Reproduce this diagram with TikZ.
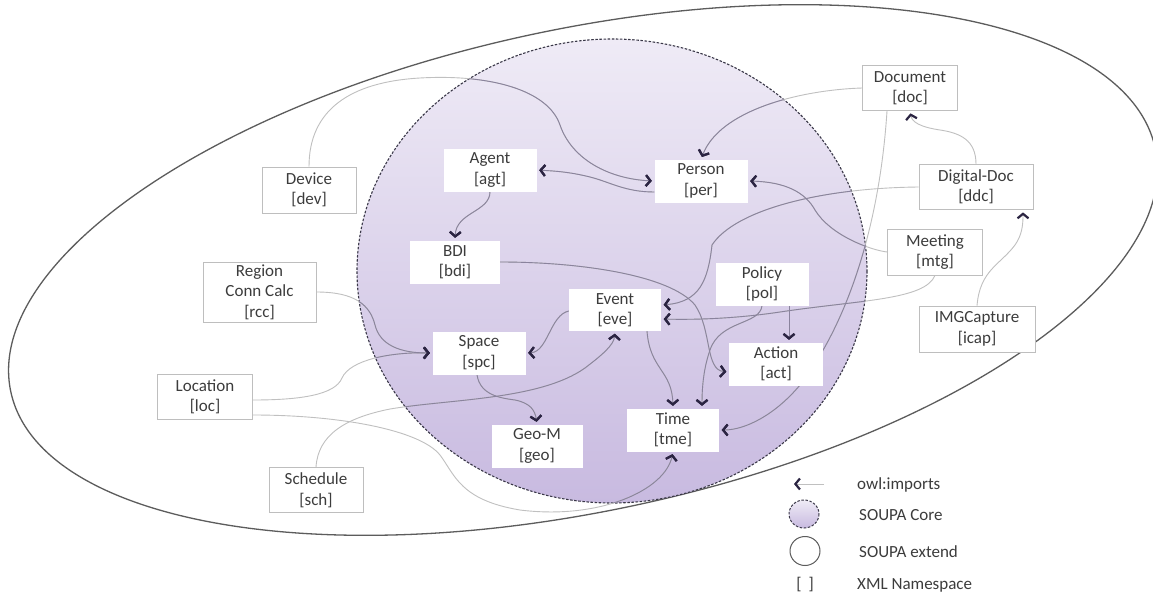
\documentclass[tikz,border=0pt]{standalone}
\usepackage{fontspec}
\setmainfont{Carlito}
\usetikzlibrary{arrows.meta,calc}

\definecolor{txt}{HTML}{3C3C3C}
\definecolor{boxline}{HTML}{BEBEBE}
\definecolor{tipc}{HTML}{2B2442}
\definecolor{lineout}{HTML}{C0C0C0}
\definecolor{linein}{HTML}{8A839D}
\definecolor{coretop}{HTML}{EFEBF6}
\definecolor{corebot}{HTML}{C8BAE0}
\definecolor{rim}{HTML}{5C5C5C}
\definecolor{corerim}{HTML}{3A3848}

\pgfdeclarelayer{bg}
\pgfdeclarelayer{wires}
\pgfsetlayers{bg,wires,main}

\newcommand\boxfont{\fontsize{17}{20.5}\selectfont}

\tikzset{
  box/.style={fill=white, align=center, inner sep=0pt, text=txt, font=\boxfont,
              minimum width=93pt, minimum height=43pt},
  corebox/.style={box},
  extbox/.style={box, draw=boxline, line width=0.8pt},
  imp/.style={line width=0.9pt, shorten >=2.5pt,
              -{Straight Barb[length=4.5pt,width=11pt,line width=2.2pt,color=tipc]}},
  lgtext/.style={text=txt, font=\boxfont, inner sep=0pt},
}

% all owl:imports connectors (arrow head at the imported ontology)
\newcommand\allwires{%
  % Device -> Person
  \draw[imp] (dev.north) .. controls (309,110) and (350,82) .. (420,78)
        .. controls (490,74) and (548,90) .. (560,125)
        .. controls (572,160) and (610,179) .. (per.west);
  % Person -> Agent
  \draw[imp] ([yshift=-11pt]per.west) .. controls (625,192) and (610,182) .. (590,177)
        .. controls (570,172) and (555,171) .. (agt.east);
  % Agent -> BDI
  \draw[imp] (agt.south) .. controls (490,212) and (456,212) .. (bdi.north);
  % Document -> Person
  \draw[imp] (doc.west) .. controls (800,90) and (720,110) .. (per.north);
  % Document -> Time
  \draw[imp] ([xshift=-23pt]doc.south) .. controls (880,220) and (850,320) .. (800,385)
        .. controls (775,415) and (745,430) .. (tme.east);
  % Digital-Doc -> Document
  \draw[imp] (ddc.north) .. controls (976,140) and (960,133) .. (940,130)
        .. controls (920,127) and (912,122) .. (doc.south);
  % IMGCapture -> Digital-Doc
  \draw[imp] (icap.north) .. controls (980,270) and (1000,265) .. (1015,245)
        .. controls (1022,235) and (1023,225) .. ([xshift=47pt]ddc.south);
  % Digital-Doc -> Event
  \draw[imp] (ddc.west) .. controls (820,188) and (735,210) .. (712,245)
        .. controls (708,280) and (700,302) .. ([yshift=5pt]eve.east);
  % Meeting -> Person
  \draw[imp] (mtg.west) .. controls (870,250) and (830,235) .. (815,210)
        .. controls (805,192) and (785,182) .. (per.east);
  % Meeting -> Event
  \draw[imp] (mtg.south) .. controls (925,300) and (860,300) .. (780,312)
        .. controls (740,318) and (700,320) .. ([yshift=-9pt]eve.east);
  % BDI -> Action
  \draw[imp] (bdi.east) .. controls (580,262) and (670,275) .. (695,305)
        .. controls (712,330) and (705,370) .. ([yshift=-8pt]act.west);
  % Policy -> Action
  \draw[imp] ([xshift=27pt]pol.south) -- ([xshift=27pt]pol.south |- act.north);
  % Policy -> Time
  \draw[imp] (pol.south) .. controls (760,325) and (720,320) .. (710,350)
        .. controls (703,370) and (702,390) .. ([xshift=29pt]tme.north);
  % Event -> Time
  \draw[imp] ([xshift=32pt]eve.south) .. controls (650,370) and (672,370) .. (tme.north);
  % Event -> Space
  \draw[imp] ([yshift=-1pt]eve.west) .. controls (550,315) and (548,352) .. (spc.east);
  % Space -> Geo-M
  \draw[imp] ([xshift=-2pt]spc.south) .. controls (480,395) and (500,398) .. (515,400)
        .. controls (530,403) and (535,410) .. (geo.north);
  % Schedule -> Event
  \draw[imp] (sch.north) .. controls (318,435) and (345,418) .. (390,409)
        .. controls (450,399) and (540,400) .. (585,368)
        .. controls (602,355) and (614,345) .. (eve.south);
  % Location -> Space
  \draw[imp] ([yshift=-3pt]loc.east) .. controls (300,400) and (335,395) .. (342,378)
        .. controls (350,360) and (390,352) .. (spc.west);
  % Region Conn Calc -> Space
  \draw[imp] (rcc.east) .. controls (355,292) and (370,305) .. (375,325)
        .. controls (380,345) and (400,353) .. (spc.west);
  % Location -> Time
  \draw[imp] ([yshift=-18pt]loc.east) .. controls (340,415) and (420,430) .. (440,455)
        .. controls (455,475) and (460,500) .. (520,510)
        .. controls (600,520) and (665,490) .. (tme.south);
}

\begin{document}
\begin{tikzpicture}[x=1pt,y=-1pt]
\useasboundingbox (0,0) rectangle (1153,594);

% ---------- ontology boxes ----------
% SOUPA core
\node[corebox] (agt) at (490,170) {Agent\\{[agt]}};
\node[corebox] (per) at (701,181) {Person\\{[per]}};
\node[corebox, minimum width=90pt] (bdi) at (455,262) {BDI\\{[bdi]}};
\node[corebox] (pol) at (762,284) {Policy\\{[pol]}};
\node[corebox, minimum width=92pt, minimum height=42pt] (eve) at (615,310) {Event\\{[eve]}};
\node[corebox] (spc) at (479,353) {Space\\{[spc]}};
\node[corebox, minimum width=94pt] (act) at (776,364) {Action\\{[act]}};
\node[corebox, minimum width=92pt] (tme) at (673,430) {Time\\{[tme]}};
\node[corebox, minimum width=91pt] (geo) at (537,446) {Geo-M\\{[geo]}};
% SOUPA extension
\node[extbox, minimum width=95pt, minimum height=45pt] (doc) at (910,88) {Document\\{[doc]}};
\node[extbox, minimum width=114pt, minimum height=45pt] (ddc) at (976,187) {Digital-Doc\\{[ddc]}};
\node[extbox, minimum width=95pt, minimum height=46pt] (mtg) at (935,252) {Meeting\\{[mtg]}};
\node[extbox, minimum width=116pt, minimum height=46pt] (icap) at (977,329) {IMGCapture\\{[icap]}};
\node[extbox, minimum width=94pt, minimum height=46pt] (dev) at (309,190) {Device\\{[dev]}};
\node[extbox, minimum width=113pt, minimum height=60pt] (rcc) at (259.5,292) {Region\\Conn Calc\\{[rcc]}};
\node[extbox, minimum width=95pt, minimum height=45pt] (loc) at (205,397) {Location\\{[loc]}};
\node[extbox, minimum width=94pt, minimum height=45pt] (sch) at (316,490) {Schedule\\{[sch]}};

% ---------- background: extension ellipse and core circle ----------
\begin{pgfonlayer}{bg}
  \fill[white] (0,0) rectangle (1153,594);
  \begin{scope}[shift={(583,270)}, rotate=12]
    \draw[rim, line width=1.3pt] (0,0) ellipse [x radius=585, y radius=241];
  \end{scope}
  \shade[top color=coretop, bottom color=corebot] (612,271) ellipse [x radius=255, y radius=232];
  \draw[corerim, line width=1.1pt, dash pattern=on 2.5pt off 1.6pt]
       (612,271) ellipse [x radius=255, y radius=232];
\end{pgfonlayer}

% ---------- connectors ----------
\begin{pgfonlayer}{wires}
  \begin{scope}[imp/.append style={draw=lineout}]
    \allwires
  \end{scope}
  \begin{scope}
    \clip (612,271) ellipse [x radius=255, y radius=232];
    \begin{scope}[imp/.append style={draw=linein}]
      \allwires
    \end{scope}
  \end{scope}
\end{pgfonlayer}

% ---------- legend ----------
\coordinate (lgA) at (824,484);
\coordinate (lgB) at (794,484);
\draw[imp, draw=lineout, shorten >=0pt] (lgA) -- (lgB);
\node[lgtext, anchor=west] (lg1) at (857,485) {owl:imports};

\shade[top color=coretop, bottom color=corebot] (804,514) ellipse [x radius=15, y radius=14];
\draw[corerim, line width=1pt, dash pattern=on 2.5pt off 1.6pt] (804,514) ellipse [x radius=15, y radius=14];
\node[lgtext, anchor=west] (lg2) at (859,515) {SOUPA Core};

\draw[rim, line width=1pt] (805,551) ellipse [x radius=15, y radius=14.5];
\node[lgtext, anchor=west] (lg3) at (859,552) {SOUPA extend};

\node[lgtext] (lg4) at (805,585) {[\hspace{7pt}]};
\node[lgtext, anchor=west] (lg5) at (857,585) {XML Namespace};
\end{tikzpicture}
\end{document}
